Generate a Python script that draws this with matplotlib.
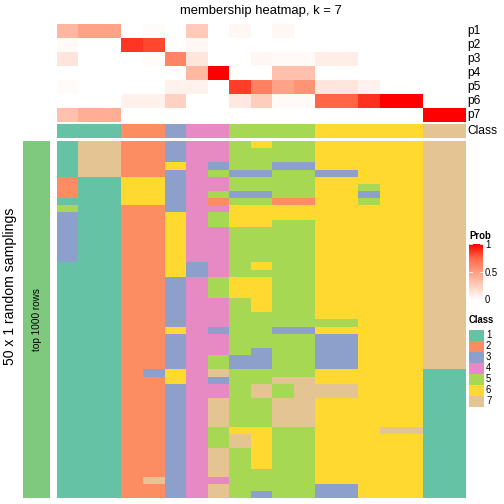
"""Membership heatmap (k = 7) drawn as a ComplexHeatmap-style figure."""

import matplotlib

matplotlib.use("Agg")
import matplotlib.pyplot as plt
import numpy as np
from matplotlib.colors import LinearSegmentedColormap, ListedColormap
from matplotlib.patches import Rectangle


# membership probabilities of the 19 consensus columns for each class p1..p7
prob_labels = ["p1", "p2", "p3", "p4", "p5", "p6", "p7"]
p1 = [0.37, 0.48, 0.48, 0, 0.02, 0, 0.27, 0, 0.04, 0, 0.04, 0, 0, 0, 0, 0, 0, 0, 0]
p2 = [0.03, 0, 0, 0.87, 0.83, 0, 0.04, 0, 0, 0, 0, 0, 0, 0, 0, 0, 0, 0, 0]
p3 = [0.14, 0, 0, 0, 0.02, 0.62, 0.13, 0, 0, 0.04, 0.03, 0.03, 0.09, 0.09, 0, 0, 0, 0, 0]
p4 = [0, 0, 0, 0, 0, 0, 0.36, 1.0, 0, 0, 0.32, 0.32, 0, 0, 0, 0, 0, 0, 0]
p5 = [0.02, 0, 0, 0, 0, 0.07, 0.07, 0, 0.85, 0.63, 0.48, 0.55, 0.13, 0.13, 0.07, 0, 0, 0, 0]
p6 = [0, 0, 0, 0.07, 0.07, 0.24, 0, 0, 0.12, 0.26, 0.03, 0.03, 0.75, 0.75, 0.88, 1.0, 1.0, 0, 0]
p7 = [0.32, 0.42, 0.42, 0, 0, 0, 0, 0, 0, 0, 0, 0, 0, 0, 0, 0, 0, 1.0, 1.0]

# consensus class of each column
column_class = [1, 1, 1, 2, 2, 3, 4, 4, 5, 5, 5, 5, 6, 6, 6, 6, 6, 7, 7]

# class assigned in each of the 50 random samplings (one string per sampling)
sampling_class = [
    "1772234456556666677",
    "1772234455556666677",
    "1772234455556666677",
    "1772264355336666677",
    "1772234533553366677",
    "2116634455556666677",
    "2116634455556656677",
    "2116634533556636677",
    "1116634255226656677",
    "5112234466666666677",
    "3112264566666666677",
    "3112264566556666677",
    "3112264455556666677",
    "3112264455556666677",
    "3112264455556666677",
    "3112264455556666677",
    "3112264455556666677",
    "1112263456556666677",
    "1112263455556666677",
    "1112234566556666677",
    "1112234566556666677",
    "1112234566556666677",
    "1112234456556666677",
    "1112234456556666677",
    "1112234455556666677",
    "1112234455555566677",
    "1112264355336666677",
    "1112234455553366677",
    "1112234455553366677",
    "1112234453553366677",
    "1112234533553366677",
    "1112234533553366677",
    "1112364755556666611",
    "1112264355776666611",
    "1112234457577766611",
    "1112234457577766611",
    "1112234755776666611",
    "1112234755776666611",
    "1112234755776666611",
    "1112234755776666611",
    "1112234566556667711",
    "1112234576556666611",
    "1112234576556666611",
    "1112234756556666611",
    "1112234756556666611",
    "1112234756556666611",
    "1112234755556666611",
    "1112734455556666611",
    "1112234755553366611",
    "1112234753553366611",
]

class_names = ["1", "2", "3", "4", "5", "6", "7"]
class_colors = ["#66C2A5", "#FC8D62", "#8DA0CB", "#E78AC3", "#A6D854", "#FFD92F", "#E5C494"]

plt.rcParams["font.family"] = ["Liberation Sans", "DejaVu Sans"]

W = H = 504.0


def box(x0, y0, x1, y1):
    return [x0 / W, 1 - y1 / H, (x1 - x0) / W, (y1 - y0) / H]


prob_cmap = LinearSegmentedColormap.from_list(
    "prob",
    [
        (0.0, "#FFFFFF"),
        (0.25, "#FFCFBE"),
        (0.5, "#FF9E82"),
        (0.75, "#FF6846"),
        (1.0, "#FF0000"),
    ],
)
class_cmap = ListedColormap(class_colors)

prob_matrix = np.array([p1, p2, p3, p4, p5, p6, p7])
class_matrix = np.array([[int(c) for c in row] for row in sampling_class])

fig = plt.figure(figsize=(7, 7), dpi=72)

x_left, x_right = 56.7, 465.0

ax_prob = fig.add_axes(box(x_left, 24, x_right, 122))
ax_prob.imshow(prob_matrix, cmap=prob_cmap, vmin=0, vmax=1, aspect="auto", interpolation="nearest")
ax_prob.set_axis_off()

ax_cls = fig.add_axes(box(x_left, 124, x_right, 138))
ax_cls.imshow([column_class], cmap=class_cmap, vmin=0.5, vmax=7.5, aspect="auto", interpolation="nearest")
ax_cls.set_axis_off()

ax_main = fig.add_axes(box(x_left, 141, x_right, 498))
ax_main.imshow(class_matrix, cmap=class_cmap, vmin=0.5, vmax=7.5, aspect="auto", interpolation="nearest")
ax_main.set_axis_off()

ax_bar = fig.add_axes(box(23, 141, 50, 498))
ax_bar.add_patch(Rectangle((0, 0), 1, 1, color="#7FC97F"))
ax_bar.set_xlim(0, 1)
ax_bar.set_ylim(0, 1)
ax_bar.set_axis_off()
ax_bar.text(0.5, 0.5, "top 1000 rows", rotation=90, ha="center", va="center", fontsize=10)

ax_cbar = fig.add_axes(box(469, 244, 483, 300))
gradient = np.linspace(0, 1, 200).reshape(-1, 1)
ax_cbar.imshow(gradient, cmap=prob_cmap, vmin=0, vmax=1, aspect="auto", origin="lower", extent=(0, 1, 0, 1))
for level in (0.5, 0.995):
    ax_cbar.plot([0, 0.2], [level, level], color="white", lw=0.8)
    ax_cbar.plot([0.8, 1], [level, level], color="white", lw=0.8)
ax_cbar.set_xlim(0, 1)
ax_cbar.set_ylim(0, 1)
ax_cbar.set_axis_off()

# overlay in pixel coordinates for texts and the class legend
ax_txt = fig.add_axes([0, 0, 1, 1])
ax_txt.set_xlim(0, W)
ax_txt.set_ylim(H, 0)
ax_txt.set_axis_off()
ax_txt.patch.set_visible(False)

ax_txt.text(261, 11, "membership heatmap, k = 7", ha="center", va="center", fontsize=13)
for i, label in enumerate(prob_labels):
    ax_txt.text(467, 31 + 14 * i, label, ha="left", va="center", fontsize=12)
ax_txt.text(467, 131, "Class", ha="left", va="center", fontsize=12)
ax_txt.text(10, 286, "50 x 1 random samplings", rotation=90, ha="center", va="center", fontsize=14)

ax_txt.text(469, 236, "Prob", ha="left", va="center", fontsize=9.5, fontweight="bold")
for value, y in [("1", 245), ("0.5", 273), ("0", 300)]:
    ax_txt.text(485, y, value, ha="left", va="center", fontsize=9.5)

ax_txt.text(469, 320, "Class", ha="left", va="center", fontsize=9.5, fontweight="bold")
for i, (name, color) in enumerate(zip(class_names, class_colors)):
    top = 330 + 11 * i
    ax_txt.add_patch(Rectangle((469, top), 14, 10, color=color))
    ax_txt.text(486, top + 5, name, ha="left", va="center", fontsize=9.5)

fig.savefig("out.png", dpi=72)
